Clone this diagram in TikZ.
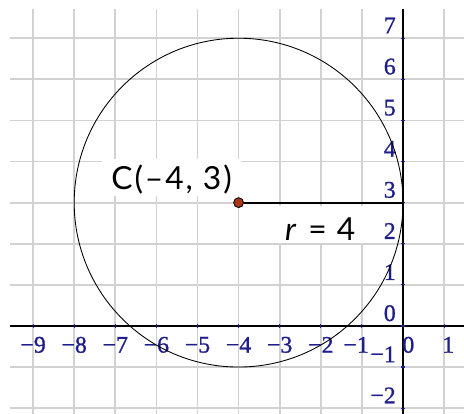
\documentclass[tikz,border=0pt]{standalone}
\usepackage{fontspec}
\usetikzlibrary{positioning}
\newfontfamily\labelfont[LetterSpace=6]{Lato}
\newfontfamily\axisfont[FakeBold=1]{Liberation Serif}
\definecolor{axisblue}{RGB}{30,30,140}
\definecolor{dotred}{RGB}{170,55,20}

\begin{document}
\begin{tikzpicture}[
  gridline/.style  = {draw=gray!35, line width=1.2pt},
  axisline/.style  = {draw=black, line width=0.9pt},
  axtick/.style    = {draw=axisblue, line width=0.8pt},
  num/.style       = {font=\axisfont\fontsize{16.5}{18}\selectfont, text=axisblue, inner sep=0pt},
  tag/.style       = {font=\labelfont\fontsize{22}{26}\selectfont, fill=white, inner xsep=0pt,
                      inner ysep=0.05cm, minimum height=0.9cm, text depth=0pt},
  centre dot/.style = {circle, fill=dotred, draw=black, line width=0.6pt,
                      minimum size=0.24cm, inner sep=0pt},
  radius line/.style = {draw=black, line width=1.4pt},
]

\useasboundingbox (-9.805,-2.14) rectangle (1.484,7.93);

% grid
\foreach \x in {-9,...,1}
  \draw[gridline] (\x,7.71) -- (\x,-2.14);
\foreach \y in {-2,...,7}
  \draw[gridline] (-9.56,\y) -- (1.484,\y);

% axes
\draw[axisline] (-9.56,0) -- (1.484,0);
\draw[axisline] (0,7.71) -- (0,-2.14);

% ticks and numbers
\foreach \x in {2,...,9} {
  \draw[axtick] (-\x,-0.05) -- (-\x,0.05);
  \node[num] (xn-\x) at (-\x,-0.46) {−\x};
}
\draw[axtick] (-1,-0.05) -- (-1,0.05);
\draw[axtick] (1,-0.05) -- (1,0.05);
\node[num] (xn-1)   at (-1.14,-0.46) {−1};
\node[num] (x-zero) at (0.13,-0.46) {0};
\node[num] (x-one)  at (1.1,-0.46)  {1};

\foreach \y in {0,...,7} {
  \draw[axtick] (-0.05,\y) -- (0.05,\y);
  \node[num, anchor=east] (yp-\y) at (-0.17,\y+0.31) {\y};
}
\foreach \y in {1,2} {
  \draw[axtick] (-0.05,-\y) -- (0.05,-\y);
  \node[num, anchor=east] (yn-\y) at (-0.17,-\y+0.31) {−\y};
}

% circle
\coordinate (ctr) at (-4,3);
\coordinate (R) at (0,3);
\draw[black, line width=0.6pt] (ctr) circle (4);

% centre and radius
\node[centre dot] (C) at (ctr) {};
\node[tag, minimum width=3.38cm, text height=0.56cm,
      above left=0.06cm and -0.16cm of C] (c-label) {C(–4, 3)};
\draw[radius line] (C) -- node[tag, below=0.06cm, xshift=-0.08cm,
      minimum width=2.34cm, text height=0.79cm] (r-label) {\textit{r} = 4} (R);

\end{tikzpicture}
\end{document}
